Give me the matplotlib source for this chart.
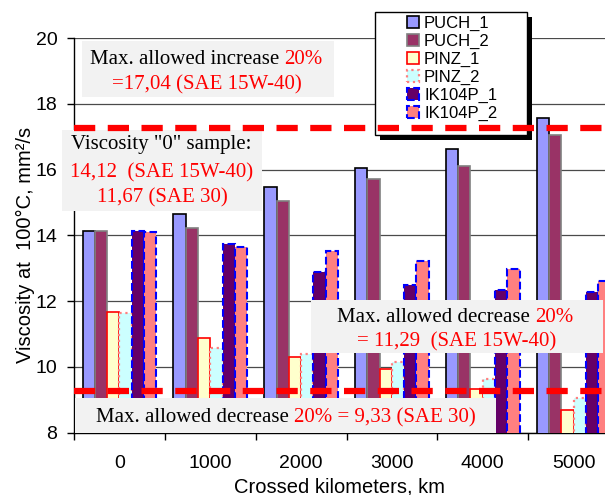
import numpy as np
import matplotlib
matplotlib.use("Agg")
import matplotlib.pyplot as plt
from matplotlib.patches import Patch, Rectangle

# ---------------- data ----------------
km_labels = ["0", "1000", "2000", "3000", "4000", "5000"]
series_names = ["PUCH_1", "PUCH_2", "PINZ_1", "PINZ_2", "IK104P_1", "IK104P_2"]
puch_1 = [14.14, 14.66, 15.48, 16.06, 16.64, 17.56]
puch_2 = [14.12, 14.23, 15.05, 15.70, 16.12, 17.04]
pinz_1 = [11.67, 10.87, 10.30, 9.95, 9.34, 8.70]
pinz_2 = [11.65, 10.56, 10.40, 10.14, 9.62, 9.04]
ik104p_1 = [14.12, 13.74, 12.89, 12.49, 12.34, 12.28]
ik104p_2 = [14.10, 13.65, 13.53, 13.22, 12.97, 12.61]
series_values = [puch_1, puch_2, pinz_1, pinz_2, ik104p_1, ik104p_2]
limit_upper = 17.27   # drawn level of the "max. allowed increase" line
limit_lower = 9.27    # drawn level of the "max. allowed decrease" line
y_ticks = [8, 10, 12, 14, 16, 18, 20]

# ---------------- styles ----------------
styles = [
    dict(facecolor="#9999ff", edgecolor="black", linestyle="-", linewidth=1.2),
    dict(facecolor="#993366", edgecolor="#808080", linestyle="-", linewidth=1.2),
    dict(facecolor="#ffffcc", edgecolor="#ff0000", linestyle="-", linewidth=1.2),
    dict(facecolor="#ccffff", edgecolor="#ff8080", linestyle=":", linewidth=1.6),
    dict(facecolor="#660066", edgecolor="#0000ff", linestyle="--", linewidth=1.5),
    dict(facecolor="#ff8080", edgecolor="#0000ff", linestyle="--", linewidth=1.5),
]

W, H = 605, 495
fig = plt.figure(figsize=(W / 100, H / 100), dpi=100)
fig.patch.set_facecolor("white")

def fx(px):
    return px / W

def fy(py):
    return 1 - py / H

ax = fig.add_axes([fx(74), fy(432.7), (619 - 74) / W, (432.7 - 38) / H])
ax.set_facecolor("white")

x = np.arange(len(km_labels))
bw = 0.135
for i, (vals, st) in enumerate(zip(series_values, styles)):
    ax.bar(x + (i - 2.5) * bw, vals, width=bw, zorder=3, **st)

ax.set_xlim(-0.5, len(km_labels) - 0.5)
ax.set_ylim(8, 20)
ax.set_yticks(y_ticks)
ax.set_yticklabels([str(v) for v in y_ticks])
ax.yaxis.grid(True, color="#4a4a4a", linewidth=0.9, zorder=1)
ax.set_axisbelow(True)

ax.set_xticks(np.arange(len(km_labels) + 1) - 0.5)
ax.set_xticklabels([])
ax.set_xticks(x, minor=True)
ax.set_xticklabels(km_labels, minor=True)
ax.tick_params(axis="x", which="major", length=5, width=1, direction="out")
ax.tick_params(axis="x", which="minor", length=0, pad=16, labelsize=14)
ax.tick_params(axis="y", length=5, width=1, direction="out", pad=7, labelsize=14)
for lab in ax.get_xticklabels(minor=True) + ax.get_yticklabels():
    lab.set_fontfamily("Liberation Sans")

for s in ["top", "right"]:
    ax.spines[s].set_visible(False)
for s in ["left", "bottom"]:
    ax.spines[s].set_linewidth(1.0)
    ax.spines[s].set_color("black")

# limit lines
for lv in (limit_upper, limit_lower):
    ax.axhline(lv, color="#ff0000", linewidth=4.5, linestyle=(0, (3.4, 2.0)),
               zorder=9, clip_on=True)

# axis labels
fig.text(fx(25), fy(245), "Viscosity at  100°C, mm²/s", rotation=90,
         ha="center", va="center", fontsize=14.5, family="Liberation Sans")
fig.text(fx(339), fy(487), "Crossed kilometers, km", ha="center", va="center",
         fontsize=14.5, family="Liberation Sans")

# legend frame + shadow (drawn manually)
def rect_px(x0, y0, x1, y1, **kw):
    r = Rectangle((fx(x0), fy(y1)), (x1 - x0) / W, (y1 - y0) / H,
                  transform=fig.transFigure, clip_on=False, **kw)
    ax.add_artist(r)
    return r

rect_px(380, 17, 532, 140, facecolor="black", edgecolor="none", zorder=6)
rect_px(375, 12, 527, 135, facecolor="white", edgecolor="black", linewidth=1.0, zorder=6.5)

handles = [Patch(label=n, **st) for n, st in zip(series_names, styles)]
leg = ax.legend(handles=handles, loc="upper left", frameon=False,
                bbox_to_anchor=(fx(407), fy(16)), bbox_transform=fig.transFigure,
                borderpad=0, borderaxespad=0, handlelength=0.72, handleheight=0.72,
                handletextpad=0.3, labelspacing=0.17,
                prop={"family": "Liberation Sans", "size": 12})
leg.set_zorder(7)

# annotation boxes
box_color = "#f2f2f2"
rect_px(82, 41, 334, 97, facecolor=box_color, edgecolor="none", zorder=4)
rect_px(62, 130, 262, 211, facecolor=box_color, edgecolor="none", zorder=4)
rect_px(311, 300, 603, 353, facecolor=box_color, edgecolor="none", zorder=4)
rect_px(75, 398, 496, 433, facecolor=box_color, edgecolor="none", zorder=4)

renderer = fig.canvas.get_renderer()
SERIF = "Liberation Serif"
FS = 15

def measure(s):
    t = fig.text(0, 0, s, fontsize=FS, family=SERIF)
    w = t.get_window_extent(renderer).width
    t.remove()
    return w

space_w = measure("x x") - measure("xx")

def rich_line(xc, yc, parts):
    texts = []
    for s, c in parts:
        t = ax.text(0, 0, s, color=c, fontsize=FS, family=SERIF, ha="left",
                    va="center", transform=fig.transFigure, zorder=8, clip_on=False)
        texts.append(t)
    widths = [t.get_window_extent(renderer).width for t in texts]
    total = sum(widths) + space_w * (len(texts) - 1)
    xx = xc - total / 2
    for t, w in zip(texts, widths):
        t.set_position((fx(xx), fy(yc)))
        xx += w + space_w

RED = "#ff0000"
rich_line(206, 60, [("Max. allowed increase", "black"), ("20%", RED)])
rich_line(207, 85, [("=17,04 (SAE 15W-40)", RED)])
rich_line(161, 145, [('Viscosity "0" sample:', "black")])
rich_line(162, 173, [("14,12  (SAE 15W-40)", RED)])
rich_line(162, 198, [("11,67 (SAE 30)", RED)])
rich_line(455, 317, [("Max. allowed decrease", "black"), ("20%", RED)])
rich_line(457, 342, [("= 11,29  (SAE 15W-40)", RED)])
rich_line(286, 418, [("Max. allowed decrease", "black"), ("20% = 9,33 (SAE 30)", RED)])

fig.savefig("out.png", dpi=100)
